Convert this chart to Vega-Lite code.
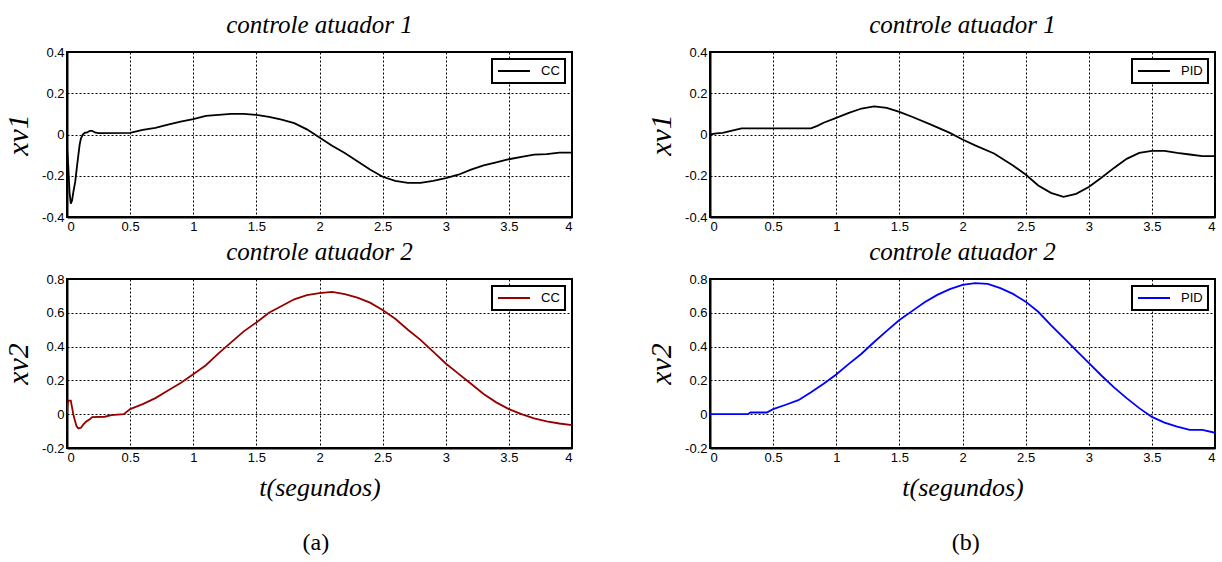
{
  "$schema": "https://vega.github.io/schema/vega-lite/v6.json",
  "padding": {"left": 2, "top": 12, "right": 0, "bottom": 0},
  "background": "white",
  "datasets": {
    "cc1": [
      {"t": 0, "v": -0.06, "s": "CC"}, {"t": 0.01, "v": -0.15, "s": "CC"}, {"t": 0.02, "v": -0.28, "s": "CC"},
      {"t": 0.03, "v": -0.335, "s": "CC"}, {"t": 0.04, "v": -0.32, "s": "CC"}, {"t": 0.05, "v": -0.28, "s": "CC"},
      {"t": 0.065, "v": -0.23, "s": "CC"}, {"t": 0.08, "v": -0.15, "s": "CC"}, {"t": 0.09, "v": -0.1, "s": "CC"},
      {"t": 0.1, "v": -0.05, "s": "CC"}, {"t": 0.11, "v": -0.02, "s": "CC"}, {"t": 0.125, "v": 0.0, "s": "CC"},
      {"t": 0.14, "v": 0.008, "s": "CC"}, {"t": 0.16, "v": 0.01, "s": "CC"}, {"t": 0.18, "v": 0.018, "s": "CC"},
      {"t": 0.2, "v": 0.018, "s": "CC"}, {"t": 0.22, "v": 0.01, "s": "CC"}, {"t": 0.25, "v": 0.007, "s": "CC"},
      {"t": 0.5, "v": 0.008, "s": "CC"}, {"t": 0.55, "v": 0.015, "s": "CC"}, {"t": 0.6, "v": 0.022, "s": "CC"},
      {"t": 0.7, "v": 0.032, "s": "CC"}, {"t": 0.8, "v": 0.048, "s": "CC"}, {"t": 0.9, "v": 0.062, "s": "CC"},
      {"t": 1.0, "v": 0.075, "s": "CC"}, {"t": 1.1, "v": 0.09, "s": "CC"}, {"t": 1.2, "v": 0.095, "s": "CC"},
      {"t": 1.3, "v": 0.1, "s": "CC"}, {"t": 1.4, "v": 0.1, "s": "CC"}, {"t": 1.5, "v": 0.095, "s": "CC"},
      {"t": 1.6, "v": 0.085, "s": "CC"}, {"t": 1.7, "v": 0.072, "s": "CC"}, {"t": 1.8, "v": 0.055, "s": "CC"},
      {"t": 1.9, "v": 0.025, "s": "CC"}, {"t": 2.0, "v": -0.015, "s": "CC"}, {"t": 2.1, "v": -0.055, "s": "CC"},
      {"t": 2.2, "v": -0.09, "s": "CC"}, {"t": 2.3, "v": -0.13, "s": "CC"}, {"t": 2.4, "v": -0.17, "s": "CC"},
      {"t": 2.5, "v": -0.205, "s": "CC"}, {"t": 2.6, "v": -0.225, "s": "CC"}, {"t": 2.7, "v": -0.235, "s": "CC"},
      {"t": 2.8, "v": -0.235, "s": "CC"}, {"t": 2.9, "v": -0.225, "s": "CC"}, {"t": 3.0, "v": -0.212, "s": "CC"},
      {"t": 3.1, "v": -0.195, "s": "CC"}, {"t": 3.2, "v": -0.17, "s": "CC"}, {"t": 3.3, "v": -0.15, "s": "CC"},
      {"t": 3.4, "v": -0.135, "s": "CC"}, {"t": 3.5, "v": -0.12, "s": "CC"}, {"t": 3.6, "v": -0.108, "s": "CC"},
      {"t": 3.7, "v": -0.098, "s": "CC"}, {"t": 3.8, "v": -0.095, "s": "CC"}, {"t": 3.9, "v": -0.088, "s": "CC"},
      {"t": 4.0, "v": -0.088, "s": "CC"}
    ],
    "cc2": [
      {"t": 0, "v": 0.0, "s": "CC"}, {"t": 0.005, "v": 0.06, "s": "CC"}, {"t": 0.012, "v": 0.08, "s": "CC"},
      {"t": 0.03, "v": 0.08, "s": "CC"}, {"t": 0.04, "v": 0.04, "s": "CC"}, {"t": 0.05, "v": 0.0, "s": "CC"},
      {"t": 0.06, "v": -0.03, "s": "CC"}, {"t": 0.075, "v": -0.07, "s": "CC"}, {"t": 0.09, "v": -0.085, "s": "CC"},
      {"t": 0.11, "v": -0.08, "s": "CC"}, {"t": 0.13, "v": -0.06, "s": "CC"}, {"t": 0.15, "v": -0.045, "s": "CC"},
      {"t": 0.18, "v": -0.03, "s": "CC"}, {"t": 0.2, "v": -0.017, "s": "CC"}, {"t": 0.3, "v": -0.015, "s": "CC"},
      {"t": 0.35, "v": -0.005, "s": "CC"}, {"t": 0.45, "v": 0.0, "s": "CC"}, {"t": 0.5, "v": 0.03, "s": "CC"},
      {"t": 0.6, "v": 0.06, "s": "CC"}, {"t": 0.7, "v": 0.095, "s": "CC"}, {"t": 0.8, "v": 0.14, "s": "CC"},
      {"t": 0.9, "v": 0.185, "s": "CC"}, {"t": 1.0, "v": 0.237, "s": "CC"}, {"t": 1.1, "v": 0.29, "s": "CC"},
      {"t": 1.2, "v": 0.36, "s": "CC"}, {"t": 1.3, "v": 0.425, "s": "CC"}, {"t": 1.4, "v": 0.49, "s": "CC"},
      {"t": 1.5, "v": 0.543, "s": "CC"}, {"t": 1.6, "v": 0.6, "s": "CC"}, {"t": 1.7, "v": 0.64, "s": "CC"},
      {"t": 1.8, "v": 0.68, "s": "CC"}, {"t": 1.9, "v": 0.705, "s": "CC"}, {"t": 2.0, "v": 0.716, "s": "CC"},
      {"t": 2.1, "v": 0.724, "s": "CC"}, {"t": 2.2, "v": 0.71, "s": "CC"}, {"t": 2.3, "v": 0.69, "s": "CC"},
      {"t": 2.4, "v": 0.66, "s": "CC"}, {"t": 2.5, "v": 0.617, "s": "CC"}, {"t": 2.6, "v": 0.565, "s": "CC"},
      {"t": 2.7, "v": 0.5, "s": "CC"}, {"t": 2.8, "v": 0.44, "s": "CC"}, {"t": 2.9, "v": 0.37, "s": "CC"},
      {"t": 3.0, "v": 0.3, "s": "CC"}, {"t": 3.1, "v": 0.24, "s": "CC"}, {"t": 3.2, "v": 0.18, "s": "CC"},
      {"t": 3.3, "v": 0.12, "s": "CC"}, {"t": 3.4, "v": 0.07, "s": "CC"}, {"t": 3.5, "v": 0.03, "s": "CC"},
      {"t": 3.6, "v": 0.0, "s": "CC"}, {"t": 3.7, "v": -0.025, "s": "CC"}, {"t": 3.8, "v": -0.042, "s": "CC"},
      {"t": 3.9, "v": -0.055, "s": "CC"}, {"t": 4.0, "v": -0.065, "s": "CC"}
    ],
    "pid1": [
      {"t": 0, "v": 0.0, "s": "PID"}, {"t": 0.05, "v": 0.005, "s": "PID"}, {"t": 0.1, "v": 0.008, "s": "PID"},
      {"t": 0.15, "v": 0.015, "s": "PID"}, {"t": 0.25, "v": 0.03, "s": "PID"}, {"t": 0.8, "v": 0.03, "s": "PID"},
      {"t": 0.85, "v": 0.042, "s": "PID"}, {"t": 0.9, "v": 0.057, "s": "PID"}, {"t": 1.0, "v": 0.081, "s": "PID"},
      {"t": 1.1, "v": 0.105, "s": "PID"}, {"t": 1.2, "v": 0.126, "s": "PID"}, {"t": 1.3, "v": 0.136, "s": "PID"},
      {"t": 1.4, "v": 0.129, "s": "PID"}, {"t": 1.5, "v": 0.11, "s": "PID"}, {"t": 1.6, "v": 0.086, "s": "PID"},
      {"t": 1.75, "v": 0.048, "s": "PID"}, {"t": 1.9, "v": 0.008, "s": "PID"}, {"t": 2.0, "v": -0.024, "s": "PID"},
      {"t": 2.1, "v": -0.053, "s": "PID"}, {"t": 2.25, "v": -0.092, "s": "PID"}, {"t": 2.4, "v": -0.15, "s": "PID"},
      {"t": 2.5, "v": -0.194, "s": "PID"}, {"t": 2.6, "v": -0.247, "s": "PID"}, {"t": 2.7, "v": -0.283, "s": "PID"},
      {"t": 2.8, "v": -0.302, "s": "PID"}, {"t": 2.9, "v": -0.288, "s": "PID"}, {"t": 3.0, "v": -0.255, "s": "PID"},
      {"t": 3.1, "v": -0.21, "s": "PID"}, {"t": 3.2, "v": -0.162, "s": "PID"}, {"t": 3.3, "v": -0.118, "s": "PID"},
      {"t": 3.4, "v": -0.089, "s": "PID"}, {"t": 3.5, "v": -0.079, "s": "PID"}, {"t": 3.6, "v": -0.079, "s": "PID"},
      {"t": 3.7, "v": -0.089, "s": "PID"}, {"t": 3.8, "v": -0.097, "s": "PID"}, {"t": 3.9, "v": -0.105, "s": "PID"},
      {"t": 4.0, "v": -0.105, "s": "PID"}
    ],
    "pid2": [
      {"t": 0, "v": 0.0, "s": "PID"}, {"t": 0.3, "v": 0.0, "s": "PID"}, {"t": 0.32, "v": 0.01, "s": "PID"},
      {"t": 0.45, "v": 0.01, "s": "PID"}, {"t": 0.5, "v": 0.03, "s": "PID"}, {"t": 0.6, "v": 0.056, "s": "PID"},
      {"t": 0.7, "v": 0.083, "s": "PID"}, {"t": 0.8, "v": 0.13, "s": "PID"}, {"t": 0.9, "v": 0.18, "s": "PID"},
      {"t": 1.0, "v": 0.235, "s": "PID"}, {"t": 1.1, "v": 0.298, "s": "PID"}, {"t": 1.2, "v": 0.358, "s": "PID"},
      {"t": 1.3, "v": 0.427, "s": "PID"}, {"t": 1.4, "v": 0.493, "s": "PID"}, {"t": 1.5, "v": 0.557, "s": "PID"},
      {"t": 1.6, "v": 0.61, "s": "PID"}, {"t": 1.7, "v": 0.662, "s": "PID"}, {"t": 1.8, "v": 0.706, "s": "PID"},
      {"t": 1.9, "v": 0.74, "s": "PID"}, {"t": 2.0, "v": 0.765, "s": "PID"}, {"t": 2.1, "v": 0.775, "s": "PID"},
      {"t": 2.2, "v": 0.771, "s": "PID"}, {"t": 2.3, "v": 0.746, "s": "PID"}, {"t": 2.4, "v": 0.712, "s": "PID"},
      {"t": 2.5, "v": 0.666, "s": "PID"}, {"t": 2.6, "v": 0.606, "s": "PID"}, {"t": 2.7, "v": 0.527, "s": "PID"},
      {"t": 2.8, "v": 0.453, "s": "PID"}, {"t": 2.9, "v": 0.378, "s": "PID"}, {"t": 3.0, "v": 0.304, "s": "PID"},
      {"t": 3.1, "v": 0.229, "s": "PID"}, {"t": 3.2, "v": 0.159, "s": "PID"}, {"t": 3.3, "v": 0.095, "s": "PID"},
      {"t": 3.4, "v": 0.036, "s": "PID"}, {"t": 3.5, "v": -0.016, "s": "PID"}, {"t": 3.6, "v": -0.05, "s": "PID"},
      {"t": 3.7, "v": -0.074, "s": "PID"}, {"t": 3.8, "v": -0.093, "s": "PID"}, {"t": 3.9, "v": -0.093, "s": "PID"},
      {"t": 4.0, "v": -0.11, "s": "PID"}
    ]
  },
  "config": {
    "font": "Liberation Sans",
    "view": {"stroke": "black", "strokeWidth": 2},
    "axis": {
      "domainColor": "black", "domainWidth": 2,
      "grid": true, "gridColor": "black", "gridDash": [2, 2], "gridOpacity": 1, "gridWidth": 1,
      "ticks": false, "tickSize": 0,
      "labelFont": "Liberation Sans", "labelFontSize": 13, "labelColor": "black", "labelPadding": 3,
      "titleFont": "Liberation Serif", "titleFontStyle": "italic", "titleFontWeight": "normal", "titleColor": "black"
    },
    "axisY": {"titleFontSize": 30, "titlePadding": 8},
    "axisX": {"titleFontSize": 26, "titlePadding": 10},
    "title": {"font": "Liberation Serif", "fontStyle": "italic", "fontWeight": "normal", "fontSize": 25, "color": "black", "anchor": "middle", "frame": "group", "offset": 8},
    "legend": {
      "symbolType": "stroke", "symbolSize": 1024, "symbolStrokeWidth": 2, "clipHeight": 14,
      "labelFont": "Liberation Sans", "labelFontSize": 13, "labelColor": "black", "labelOffset": 10,
      "strokeColor": "black", "strokeWidth": 2, "fillColor": "white", "padding": 5, "offset": 7, "orient": "top-right"
    }
  },
  "spacing": 72,
  "resolve": {"scale": {"x": "independent", "y": "independent", "color": "independent"}, "legend": {"color": "independent"}},
  "hconcat": [
    {
      "title": {"text": "(a)", "orient": "bottom", "anchor": "middle", "frame": "bounds", "dx": 28, "fontStyle": "normal", "fontSize": 24, "offset": 30},
      "spacing": 5,
      "resolve": {"scale": {"x": "independent", "y": "independent", "color": "independent"}, "legend": {"color": "independent"}},
      "vconcat": [
        {
          "width": 505, "height": 165,
          "title": "controle atuador 1",
          "data": {"name": "cc1"},
          "mark": {"type": "line", "strokeWidth": 1.8, "clip": true},
          "encoding": {
            "x": {"field": "t", "type": "quantitative", "scale": {"domain": [0, 4], "nice": false},
                  "axis": {"values": [0, 0.5, 1, 1.5, 2, 2.5, 3, 3.5, 4], "labelExpr": "'' + datum.value", "title": null}},
            "y": {"field": "v", "type": "quantitative", "scale": {"domain": [-0.4, 0.4], "nice": false},
                  "axis": {"values": [-0.4, -0.2, 0, 0.2, 0.4], "labelExpr": "'' + datum.value", "title": "xv1"}},
            "color": {"field": "s", "type": "nominal", "scale": {"domain": ["CC"], "range": ["black"]}, "legend": {"title": null}}
          }
        },
        {
          "width": 505, "height": 169,
          "title": "controle atuador 2",
          "data": {"name": "cc2"},
          "mark": {"type": "line", "strokeWidth": 1.8, "clip": true},
          "encoding": {
            "x": {"field": "t", "type": "quantitative", "scale": {"domain": [0, 4], "nice": false},
                  "axis": {"values": [0, 0.5, 1, 1.5, 2, 2.5, 3, 3.5, 4], "labelExpr": "'' + datum.value", "title": "t(segundos)"}},
            "y": {"field": "v", "type": "quantitative", "scale": {"domain": [-0.2, 0.8], "nice": false},
                  "axis": {"values": [-0.2, 0, 0.2, 0.4, 0.6, 0.8], "labelExpr": "'' + datum.value", "title": "xv2"}},
            "color": {"field": "s", "type": "nominal", "scale": {"domain": ["CC"], "range": ["#960000"]}, "legend": {"title": null}}
          }
        }
      ]
    },
    {
      "title": {"text": "(b)", "orient": "bottom", "anchor": "middle", "frame": "bounds", "dx": 35, "fontStyle": "normal", "fontSize": 24, "offset": 30},
      "spacing": 5,
      "resolve": {"scale": {"x": "independent", "y": "independent", "color": "independent"}, "legend": {"color": "independent"}},
      "vconcat": [
        {
          "width": 505, "height": 165,
          "title": "controle atuador 1",
          "data": {"name": "pid1"},
          "mark": {"type": "line", "strokeWidth": 1.8, "clip": true},
          "encoding": {
            "x": {"field": "t", "type": "quantitative", "scale": {"domain": [0, 4], "nice": false},
                  "axis": {"values": [0, 0.5, 1, 1.5, 2, 2.5, 3, 3.5, 4], "labelExpr": "'' + datum.value", "title": null}},
            "y": {"field": "v", "type": "quantitative", "scale": {"domain": [-0.4, 0.4], "nice": false},
                  "axis": {"values": [-0.4, -0.2, 0, 0.2, 0.4], "labelExpr": "'' + datum.value", "title": "xv1"}},
            "color": {"field": "s", "type": "nominal", "scale": {"domain": ["PID"], "range": ["black"]}, "legend": {"title": null}}
          }
        },
        {
          "width": 505, "height": 169,
          "title": "controle atuador 2",
          "data": {"name": "pid2"},
          "mark": {"type": "line", "strokeWidth": 1.8, "clip": true},
          "encoding": {
            "x": {"field": "t", "type": "quantitative", "scale": {"domain": [0, 4], "nice": false},
                  "axis": {"values": [0, 0.5, 1, 1.5, 2, 2.5, 3, 3.5, 4], "labelExpr": "'' + datum.value", "title": "t(segundos)"}},
            "y": {"field": "v", "type": "quantitative", "scale": {"domain": [-0.2, 0.8], "nice": false},
                  "axis": {"values": [-0.2, 0, 0.2, 0.4, 0.6, 0.8], "labelExpr": "'' + datum.value", "title": "xv2"}},
            "color": {"field": "s", "type": "nominal", "scale": {"domain": ["PID"], "range": ["#0000ff"]}, "legend": {"title": null}}
          }
        }
      ]
    }
  ]
}
